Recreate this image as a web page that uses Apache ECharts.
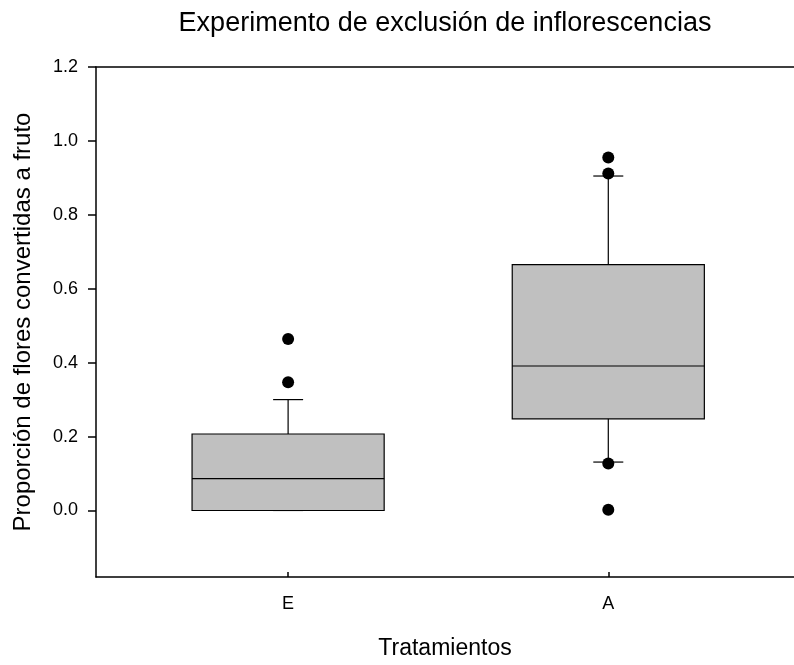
<!DOCTYPE html>
<html>
<head>
<meta charset="utf-8">
<script src="https://cdn.jsdelivr.net/npm/echarts@6/dist/echarts.min.js"></script>
<style>
html,body{margin:0;padding:0;background:#fff;}
#chart{width:794px;height:665px;}
</style>
</head>
<body>
<div id="chart"></div>
<script>
// ---- data ----
var categories = ['E', 'A'];
var categoryPos = [1, 2];
var whiskerLow = [0.0, 0.131];
var q1 = [0.0, 0.248];
var median = [0.086, 0.391];
var q3 = [0.207, 0.665];
var whiskerHigh = [0.300, 0.905];
var outliersE = [0.464, 0.347];
var outliersA = [0.955, 0.912, 0.127, 0.002];
var yTicks = [0.0, 0.2, 0.4, 0.6, 0.8, 1.0, 1.2];
var titleText = 'Experimento de exclusión de inflorescencias';
var xName = 'Tratamientos';
var yName = 'Proporción de flores convertidas a fruto';

// ---- build ----
var boxData = categories.map(function (c, i) {
  return [categoryPos[i], whiskerLow[i], q1[i], median[i], q3[i], whiskerHigh[i]];
});
var outlierData = [];
outliersE.forEach(function (v) { outlierData.push([categoryPos[0], v]); });
outliersA.forEach(function (v) { outlierData.push([categoryPos[1], v]); });

var FONT = "'Liberation Sans', Arial, sans-serif";
var BOX_HALF = 0.3;
var CAP_HALF_PX = 15;

function renderBox(params, api) {
  var x = api.value(0);
  var lo = api.coord([x, api.value(1)]);
  var b1 = api.coord([x - BOX_HALF, api.value(2)]);
  var md = api.coord([x - BOX_HALF, api.value(3)]);
  var b3 = api.coord([x + BOX_HALF, api.value(4)]);
  var hi = api.coord([x, api.value(5)]);
  var lineStyle = { stroke: '#000', lineWidth: 1.2, fill: null };
  return {
    type: 'group',
    children: [
      { type: 'line', shape: { x1: lo[0], y1: b1[1], x2: lo[0], y2: lo[1] }, style: lineStyle },
      { type: 'line', shape: { x1: hi[0], y1: b3[1], x2: hi[0], y2: hi[1] }, style: lineStyle },
      { type: 'line', shape: { x1: lo[0] - CAP_HALF_PX, y1: lo[1], x2: lo[0] + CAP_HALF_PX, y2: lo[1] }, style: lineStyle },
      { type: 'line', shape: { x1: hi[0] - CAP_HALF_PX, y1: hi[1], x2: hi[0] + CAP_HALF_PX, y2: hi[1] }, style: lineStyle },
      { type: 'rect', shape: { x: b1[0], y: b3[1], width: b3[0] - b1[0], height: b1[1] - b3[1] },
        style: { fill: '#c0c0c0', stroke: '#000', lineWidth: 1.2 } },
      { type: 'line', shape: { x1: b1[0], y1: md[1], x2: b3[0], y2: md[1] }, style: lineStyle }
    ]
  };
}

var chart = echarts.init(document.getElementById('chart'), null, { renderer: 'canvas' });
chart.setOption({
  backgroundColor: '#fff',
  animation: false,
  textStyle: { fontFamily: FONT },
  title: {
    text: titleText,
    left: 440,
    top: 5,
    textAlign: 'center',
    textStyle: { fontFamily: FONT, fontSize: 27, fontWeight: 'normal', color: '#000' }
  },
  grid: { left: 96, top: 67, right: 0, height: 510, show: false },
  xAxis: [
    {
      type: 'value', min: 0.4, max: 2.58, position: 'bottom',
      name: xName, nameLocation: 'middle', nameGap: 60,
      nameTextStyle: { fontFamily: FONT, fontSize: 23, color: '#000' },
      axisLine: { show: true, onZero: false, lineStyle: { color: '#000', width: 1.5 } },
      axisTick: { show: true, inside: true, length: 5, customValues: categoryPos, lineStyle: { color: '#000', width: 1.5 } },
      axisLabel: {
        customValues: categoryPos, margin: 18,
        fontFamily: FONT, fontSize: 18, color: '#000',
        formatter: function (v) { var i = categoryPos.indexOf(v); return i >= 0 ? categories[i] : ''; }
      },
      splitLine: { show: false }
    },
    {
      type: 'value', min: 0.4, max: 2.58, position: 'top',
      axisLine: { show: true, onZero: false, lineStyle: { color: '#000', width: 1.5 } },
      axisTick: { show: false }, axisLabel: { show: false }, splitLine: { show: false }
    }
  ],
  yAxis: {
    type: 'value', min: -0.18, max: 1.2,
    name: yName, nameLocation: 'middle', nameGap: 61,
    nameTextStyle: { fontFamily: FONT, fontSize: 24, color: '#000' },
    axisLine: { show: true, onZero: false, lineStyle: { color: '#000', width: 1.5 } },
    axisTick: { show: true, length: 8, customValues: yTicks, lineStyle: { color: '#000', width: 1.5 } },
    axisLabel: {
      customValues: yTicks, margin: 18,
      fontFamily: FONT, fontSize: 18, color: '#000',
      formatter: function (v) { return v.toFixed(1); }
    },
    splitLine: { show: false }
  },
  series: [
    {
      type: 'custom',
      renderItem: renderBox,
      data: boxData,
      encode: { x: 0, y: [1, 2, 3, 4, 5] },
      z: 2
    },
    {
      type: 'scatter',
      data: outlierData,
      symbol: 'circle',
      symbolSize: 12,
      itemStyle: { color: '#000', opacity: 1 },
      z: 3
    }
  ]
});
</script>
</body>
</html>
